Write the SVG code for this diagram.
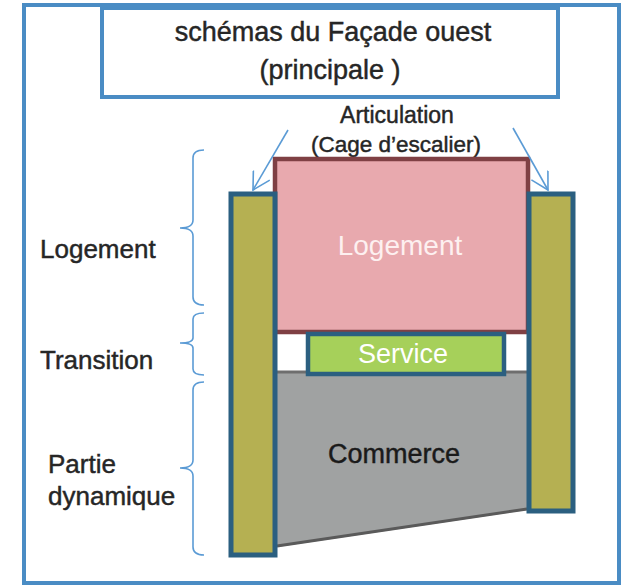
<svg xmlns="http://www.w3.org/2000/svg" width="622" height="587" viewBox="0 0 622 587">
<defs>
<style>
.t{font-family:"Liberation Sans",Arial,sans-serif;fill:#262626;stroke:#262626;stroke-width:0.45}
.frame{fill:none;stroke:#4a8cc4;stroke-width:4}
.col{fill:#b5b052;stroke:#2b5f80;stroke-width:5}
.brace{fill:none;stroke:#5b9bd5;stroke-width:1.6}
.arrow{fill:none;stroke:#5b9bd5;stroke-width:1.6;marker-end:url(#open)}
</style>
<marker id="open" viewBox="0 0 20 20" refX="18" refY="10" markerWidth="20" markerHeight="20" markerUnits="userSpaceOnUse" orient="auto">
<path d="M1,0.5 L18,10 L1,19.5" fill="none" stroke="#5b9bd5" stroke-width="1.6"/>
</marker>
</defs>
<rect width="622" height="587" fill="#ffffff"/>
<rect id="outer-frame" class="frame" x="24" y="5" width="595" height="578"/>
<g id="title">
<rect class="frame" x="102" y="8" width="456" height="89" fill="#ffffff"/>
<text class="t" x="333" y="41" font-size="27" text-anchor="middle">schémas du Façade ouest</text>
<text class="t" x="330" y="79" font-size="27" text-anchor="middle">(principale )</text>
</g>
<g id="articulation-label">
<text class="t" x="397" y="123" font-size="23" text-anchor="middle">Articulation</text>
<text class="t" x="396" y="152" font-size="22.5" text-anchor="middle">(Cage d’escalier)</text>
</g>
<g id="logement">
<rect x="275" y="159" width="253" height="173" fill="#e8a9ae" stroke="#7f4044" stroke-width="4.5"/>
<text x="400" y="255" font-family="Liberation Sans,Arial,sans-serif" font-size="28" fill="#fdf0f0" text-anchor="middle">Logement</text>
</g>
<g id="commerce">
<polygon points="277,372 527,372 527,510 277,547" fill="#a0a2a2"/>
<line x1="277" y1="372" x2="527" y2="372" stroke="#6e6e6e" stroke-width="3"/>
<line x1="277" y1="546" x2="527" y2="509" stroke="#5a5a5a" stroke-width="3"/>
<text class="t" x="394" y="463" font-size="27" text-anchor="middle" style="fill:#1a1a1a;stroke:#1a1a1a">Commerce</text>
</g>
<g id="service">
<rect x="308" y="334" width="196" height="40" fill="#a6d05a" stroke="#2b5f80" stroke-width="4.5"/>
<text x="403" y="363" font-family="Liberation Sans,Arial,sans-serif" font-size="27" fill="#ffffff" text-anchor="middle">Service</text>
</g>
<g id="left-column">
<rect class="col" x="231" y="194" width="44" height="361"/>
</g>
<g id="right-column">
<rect class="col" x="529" y="194" width="44" height="317"/>
</g>
<g id="labels">
<text class="t" x="40" y="258" font-size="26">Logement</text>
<text class="t" x="40" y="369" font-size="26">Transition</text>
<text class="t" x="48" y="473" font-size="26">Partie</text>
<text class="t" x="48" y="505" font-size="26">dynamique</text>
</g>
<g id="connectors">
<path class="brace" d="M204,150 Q193,150 193,158 L193,220 Q193,228 180,228 Q193,228 193,236 L193,297 Q193,305 204,305"/>
<path class="brace" d="M204,313 Q193,313 193,319 L193,338 Q193,343 180,343 Q193,343 193,348 L193,369 Q193,375 204,375"/>
<path class="brace" d="M204,382 Q193,382 193,390 L193,460 Q193,468 180,468 Q193,468 193,476 L193,547 Q193,555 204,555"/>
<line class="arrow" x1="288" y1="130" x2="253" y2="190"/>
<line class="arrow" x1="513" y1="128" x2="548" y2="190"/>
</g>
</svg>
